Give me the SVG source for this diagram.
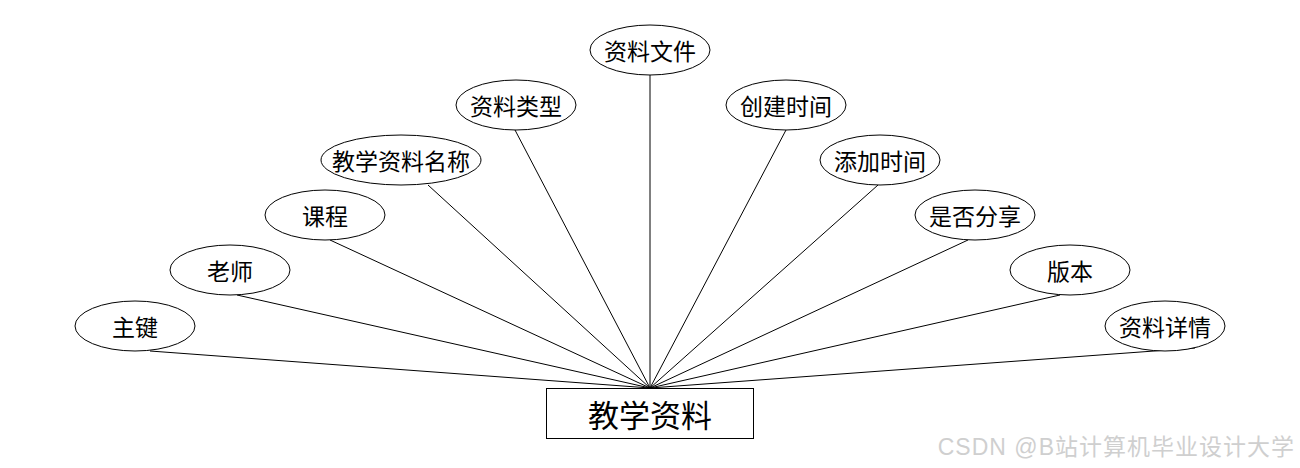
<svg xmlns="http://www.w3.org/2000/svg" width="1300" height="468" viewBox="0 0 1300 468">
<style>
.e{fill:#fff;stroke:#000;stroke-width:1}
.t{font-family:"Noto Sans CJK SC","Noto Sans",sans-serif;font-size:23px;fill:#000;text-anchor:middle;dominant-baseline:central}
.c line{stroke:#000;stroke-width:1}
</style>
<rect width="1300" height="468" fill="#fff"/>
<g class="c" id="connectors">
<line x1="150" y1="351" x2="650" y2="388"/>
<line x1="237" y1="295" x2="650" y2="388"/>
<line x1="330" y1="240" x2="650" y2="388"/>
<line x1="428" y1="185" x2="650" y2="388"/>
<line x1="515" y1="130" x2="650" y2="388"/>
<line x1="650" y1="75" x2="650" y2="388"/>
<line x1="786" y1="130" x2="650" y2="388"/>
<line x1="878" y1="185" x2="650" y2="388"/>
<line x1="968" y1="240" x2="650" y2="388"/>
<line x1="1060" y1="295" x2="650" y2="388"/>
<line x1="1195" y1="348" x2="650" y2="388"/>
</g>
<g id="n1"><ellipse class="e" cx="135" cy="326" rx="60" ry="25"/><text class="t" x="135" y="326">主键</text></g>
<g id="n2"><ellipse class="e" cx="230" cy="270" rx="60" ry="25"/><text class="t" x="230" y="270">老师</text></g>
<g id="n3"><ellipse class="e" cx="325" cy="215" rx="60" ry="25"/><text class="t" x="325" y="215">课程</text></g>
<g id="n4"><ellipse class="e" cx="401" cy="160" rx="80" ry="25"/><text class="t" x="401" y="160">教学资料名称</text></g>
<g id="n5"><ellipse class="e" cx="516" cy="105" rx="60" ry="25"/><text class="t" x="516" y="105">资料类型</text></g>
<g id="n6"><ellipse class="e" cx="650" cy="50" rx="60" ry="25"/><text class="t" x="650" y="50">资料文件</text></g>
<g id="n7"><ellipse class="e" cx="786" cy="105" rx="60" ry="25"/><text class="t" x="786" y="105">创建时间</text></g>
<g id="n8"><ellipse class="e" cx="880" cy="160" rx="60" ry="25"/><text class="t" x="880" y="160">添加时间</text></g>
<g id="n9"><ellipse class="e" cx="975" cy="215" rx="60" ry="25"/><text class="t" x="975" y="215">是否分享</text></g>
<g id="n10"><ellipse class="e" cx="1070" cy="270" rx="60" ry="25"/><text class="t" x="1070" y="270">版本</text></g>
<g id="n11"><ellipse class="e" cx="1165" cy="326" rx="60" ry="25"/><text class="t" x="1165" y="326">资料详情</text></g>
<g id="entity"><rect x="546.5" y="388.5" width="207" height="50" fill="#fff" stroke="#000" stroke-width="1"/><text class="t" x="650" y="413" style="font-size:31px">教学资料</text></g>
<text x="1295" y="455" text-anchor="end" letter-spacing="1" font-family="'Liberation Sans','Noto Sans CJK SC',sans-serif" font-size="23" fill="#cfcfcf">CSDN @B站计算机毕业设计大学</text>
</svg>
